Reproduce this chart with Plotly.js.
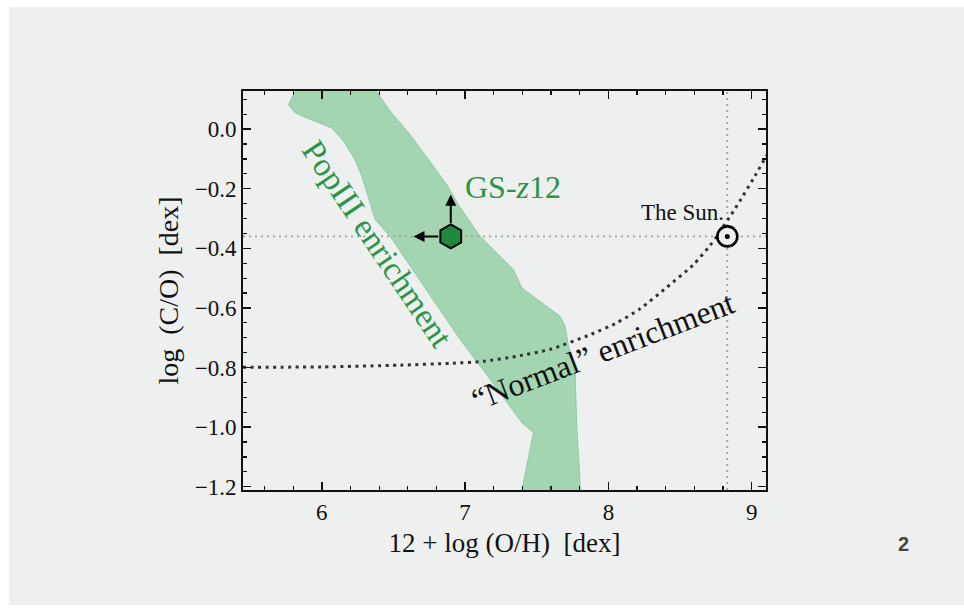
<!DOCTYPE html>
<html><head><meta charset="utf-8">
<script src="https://cdn.plot.ly/plotly-3.0.1.min.js"></script>
<style>
html,body{margin:0;padding:0;background:#fff;overflow:hidden;}
#bg{position:absolute;left:9px;top:7px;width:955px;height:598px;background:#eef0ef;}
#chart{position:absolute;left:0;top:0;width:964px;height:610px;}
</style></head><body>
<div id="bg"></div><div id="chart"></div>
<script>
// PopIII enrichment region (polygon outline)
const popX = [5.849, 5.802, 5.767, 5.814, 5.895, 6.070, 6.151, 6.232, 6.279, 6.325, 6.372, 6.477, 6.779, 6.965, 7.140, 7.396, 7.477, 7.384, 7.809, 7.779, 7.768, 7.721, 7.698, 7.663, 7.396, 7.337, 7.105, 6.953, 6.872, 6.733, 6.616, 6.477, 6.384, 6.351];
const popY = [0.148, 0.116, 0.082, 0.055, 0.038, 0.004, -0.040, -0.102, -0.157, -0.230, -0.303, -0.360, -0.572, -0.706, -0.817, -0.985, -1.018, -1.242, -1.242, -0.996, -0.817, -0.728, -0.661, -0.628, -0.533, -0.471, -0.360, -0.254, -0.186, -0.096, -0.018, 0.060, 0.125, 0.148];

// "Normal" enrichment track
const normX = [5.45, 6.0, 6.546, 6.895, 7.128, 7.361, 7.594, 7.872, 8.059, 8.221, 8.407, 8.593, 8.710, 8.756, 8.872, 8.919, 9.012, 9.105];
const normY = [-0.799, -0.798, -0.792, -0.786, -0.779, -0.762, -0.739, -0.690, -0.650, -0.603, -0.531, -0.455, -0.390, -0.360, -0.276, -0.240, -0.166, -0.088];

// The Sun
const sunX = [8.83];
const sunY = [-0.36];

// GS-z12 (limits shown as arrows)
const gsX = [6.90];
const gsY = [-0.36];
const gsUpTip = [-0.22];
const gsLeftTip = [6.64];

const xRange = [5.45, 9.1];
const yRange = [-1.211, 0.128];

const serif = 'Liberation Serif';
const green = '#2a9547';

const traces = [
  {x: popX, y: popY, mode: 'lines', fill: 'toself', fillcolor: '#a3d5b0',
   line: {color: '#91caa0', width: 1}, hoverinfo: 'skip', showlegend: false},
  {x: xRange, y: [sunY[0], sunY[0]], mode: 'lines',
   line: {color: '#a0a0a0', width: 1.8, dash: '2px,4px'}, showlegend: false},
  {x: [sunX[0], sunX[0]], y: yRange, mode: 'lines',
   line: {color: '#a0a0a0', width: 1.8, dash: '2px,4px'}, showlegend: false},
  {x: normX, y: normY, mode: 'lines', line: {color: '#333', width: 3, dash: '3px,4.5px', shape: 'spline', smoothing: 0.6}, showlegend: false},
  {x: sunX, y: sunY, mode: 'markers', marker: {symbol: 'circle', size: 20, color: '#eef0ef', line: {color: '#000', width: 2.6}}, showlegend: false},
  {x: sunX, y: sunY, mode: 'markers', marker: {symbol: 'circle', size: 5, color: '#000'}, showlegend: false},
  {x: gsX, y: gsY, mode: 'markers', marker: {symbol: 'hexagon', size: 24, color: '#1f8a3f', line: {color: '#000', width: 2}}, showlegend: false}
];

const annotations = [
  {x: gsX[0], y: gsUpTip[0], ax: gsX[0], ay: gsY[0], xref: 'x', yref: 'y', axref: 'x', ayref: 'y',
   showarrow: true, arrowhead: 2, arrowsize: 1.1, arrowwidth: 2, arrowcolor: '#000', startstandoff: 12, text: ''},
  {x: gsLeftTip[0], y: gsY[0], ax: gsX[0], ay: gsY[0], xref: 'x', yref: 'y', axref: 'x', ayref: 'y',
   showarrow: true, arrowhead: 2, arrowsize: 1.1, arrowwidth: 2, arrowcolor: '#000', startstandoff: 11, text: ''},
  {x: 7.337, y: -0.194, xref: 'x', yref: 'y', text: 'GS-<i>z</i>12', showarrow: false,
   font: {family: serif, size: 32, color: green}},
  {x: 6.389, y: -0.384, xref: 'x', yref: 'y', text: 'PopIII enrichment', showarrow: false, textangle: 56,
   font: {family: serif, size: 33, color: green}},
  {x: 7.963, y: -0.746, xref: 'x', yref: 'y', text: '\u201CNormal\u201D enrichment', showarrow: false, textangle: -21,
   font: {family: serif, size: 32, color: '#111'}},
  {x: 8.514, y: -0.280, xref: 'x', yref: 'y', text: 'The Sun.', showarrow: false,
   font: {family: serif, size: 23, color: '#111'}},
  {x: 1.262, y: -0.135, xref: 'paper', yref: 'paper', xanchor: 'center', yanchor: 'middle', text: '<b>2</b>', showarrow: false,
   font: {family: 'Liberation Sans', size: 20, color: '#444'}}
];

function axisBase() {
  return {
    showline: true, linewidth: 2, linecolor: '#111', mirror: 'allticks',
    ticks: 'inside', ticklen: 8, tickwidth: 1.5, tickcolor: '#111',
    showgrid: false, zeroline: false,
    tickfont: {family: serif, size: 23, color: '#111'}
  };
}

const layout = {
  width: 964, height: 610,
  font: {family: serif, color: '#111'},
  margin: {l: 243, r: 198, t: 91, b: 120},
  paper_bgcolor: 'rgba(0,0,0,0)', plot_bgcolor: 'rgba(0,0,0,0)',
  xaxis: Object.assign(axisBase(), {
    range: xRange, dtick: 1, tick0: 0,
    minor: {dtick: 0.2, tick0: 0, ticks: 'inside', ticklen: 4, tickwidth: 1.2, tickcolor: '#111'},
    title: {text: '12\u00A0+\u00A0log\u00A0(O/H)\u00A0\u00A0[dex]', font: {family: serif, size: 27, color: '#111'}, standoff: 10}
  }),
  yaxis: Object.assign(axisBase(), {
    range: yRange, dtick: 0.2, tick0: 0, tickformat: '.1f',
    minor: {dtick: 0.05, tick0: 0, ticks: 'inside', ticklen: 4, tickwidth: 1.2, tickcolor: '#111'},
    title: {text: 'log\u00A0\u00A0(C/O)\u00A0\u00A0[dex]', font: {family: serif, size: 28, color: '#111'}, standoff: 8}
  }),
  annotations: annotations,
  showlegend: false
};

Plotly.newPlot('chart', traces, layout, {staticPlot: true});
</script></body></html>
